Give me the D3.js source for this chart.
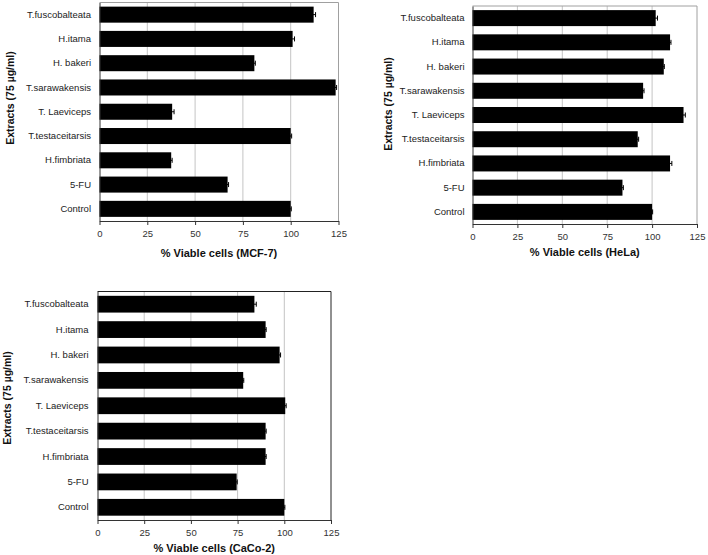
<!DOCTYPE html>
<html><head><meta charset="utf-8">
<script src="https://cdn.jsdelivr.net/npm/d3@7"></script>
<style>
html,body{margin:0;padding:0;background:#fff;}
text{font-family:"Liberation Sans",Arial,sans-serif;}
</style></head>
<body>
<svg id="chart" width="708" height="555"></svg>
<script>
const categories = ["T.fuscobalteata","H.itama","H. bakeri","T.sarawakensis","T. Laeviceps","T.testaceitarsis","H.fimbriata","5-FU","Control"];
const mcf7Values = [112, 101, 81, 123.5, 38, 100, 37.5, 67, 100];
const mcf7Errors = [1, 1, 0.5, 0.5, 1, 0.5, 0.5, 0.5, 0.3];
const helaValues = [102, 110, 106.5, 95, 117.5, 92, 110, 83.5, 100];
const helaErrors = [1, 0.5, 0.3, 0.5, 1, 0.5, 1, 0.5, 0.3];
const cacoValues = [84, 90, 97.5, 78, 100.5, 90, 90, 74.5, 100];
const cacoErrors = [1, 0.3, 0.5, 0.3, 0.5, 0.3, 0.3, 0.3, 0.3];
const xTicks = [0, 25, 50, 75, 100, 125];
const xTitles = ["% Viable cells (MCF-7)", "% Viable cells (HeLa)", "% Viable cells (CaCo-2)"];
const yTitle = "Extracts (75 \u00b5g/ml)";

const svg = d3.select("#chart");

function panel(cfg){
  const g = svg.append("g");
  const x = d3.scaleLinear().domain([0,125]).range([cfg.left, cfg.right]);
  const y = d3.scaleBand().domain(categories).range([cfg.top, cfg.bottom]).paddingInner(0.34).paddingOuter(0.17);
  // gridlines
  g.selectAll("line.grid").data(xTicks.filter(t=>t>0 && t<125)).enter().append("line")
    .attr("x1",d=>x(d)).attr("x2",d=>x(d)).attr("y1",cfg.top).attr("y2",cfg.bottom)
    .attr("stroke","#c4c4c4").attr("stroke-width",1);
  // frame top & right
  g.append("line").attr("x1",cfg.left).attr("x2",cfg.right).attr("y1",cfg.top).attr("y2",cfg.top)
    .attr("stroke",cfg.frame).attr("stroke-width",1);
  g.append("line").attr("x1",cfg.right).attr("x2",cfg.right).attr("y1",cfg.top).attr("y2",cfg.bottom)
    .attr("stroke",cfg.frame).attr("stroke-width",1);
  // bars
  g.selectAll("rect.bar").data(cfg.values).enter().append("rect")
    .attr("x",x(0)).attr("y",(d,i)=>y(categories[i]))
    .attr("width",d=>x(d)-x(0)).attr("height",y.bandwidth()).attr("fill","#000");
  // error bars
  const eb = g.selectAll("g.err").data(cfg.values).enter().append("g");
  eb.append("line").attr("x1",(d,i)=>x(d-cfg.errors[i])).attr("x2",(d,i)=>x(d+cfg.errors[i]))
    .attr("y1",(d,i)=>y(categories[i])+y.bandwidth()/2).attr("y2",(d,i)=>y(categories[i])+y.bandwidth()/2)
    .attr("stroke","#000").attr("stroke-width",1);
  eb.append("line").attr("x1",(d,i)=>x(d+cfg.errors[i])).attr("x2",(d,i)=>x(d+cfg.errors[i]))
    .attr("y1",(d,i)=>y(categories[i])+y.bandwidth()/2-2.5).attr("y2",(d,i)=>y(categories[i])+y.bandwidth()/2+2.5)
    .attr("stroke","#000").attr("stroke-width",1);
  // x axis
  const xa = g.append("g").attr("transform",`translate(0,${cfg.bottom})`)
    .call(d3.axisBottom(x).tickValues(xTicks).tickSize(4).tickPadding(5).tickSizeOuter(0));
  xa.select(".domain").attr("stroke","#333");
  xa.selectAll(".tick line").attr("stroke","#333");
  xa.selectAll(".tick text").attr("font-size","9.5px").attr("fill","#333")
    .attr("font-family","'Liberation Sans',Arial,sans-serif");
  // y axis
  const ya = g.append("g").attr("transform",`translate(${cfg.left},0)`)
    .call(d3.axisLeft(y).tickSize(0).tickPadding(cfg.labelPad));
  ya.select(".domain").attr("stroke","#333");
  ya.selectAll(".tick text").attr("font-size","9.5px").attr("fill","#222")
    .attr("font-family","'Liberation Sans',Arial,sans-serif");
  // titles
  g.append("text").attr("x",(cfg.left+cfg.right)/2).attr("y",cfg.xTitleY)
    .attr("text-anchor","middle").attr("font-weight","bold").attr("font-size","11px").attr("fill","#111")
    .text(cfg.xTitle);
  g.append("text").attr("transform",`translate(${cfg.yTitleX},${cfg.yTitleY}) rotate(-90)`)
    .attr("text-anchor","middle").attr("dominant-baseline","central")
    .attr("font-weight","bold").attr("font-size","10.5px").attr("fill","#111")
    .text(yTitle);
}

panel({left:99.5, right:338.5, top:2.5, bottom:221, values:mcf7Values, errors:mcf7Errors,
  frame:"#a0a0a0", labelPad:8.5, xTitle:xTitles[0], xTitleY:257, yTitleX:10, yTitleY:98});
panel({left:472.5, right:697, top:6, bottom:224, values:helaValues, errors:helaErrors,
  frame:"#a0a0a0", labelPad:8, xTitle:xTitles[1], xTitleY:256, yTitleX:388, yTitleY:104});
panel({left:97.5, right:331, top:291.5, bottom:520, values:cacoValues, errors:cacoErrors,
  frame:"#222", labelPad:9, xTitle:xTitles[2], xTitleY:552, yTitleX:7, yTitleY:398});
</script>
</body></html>
